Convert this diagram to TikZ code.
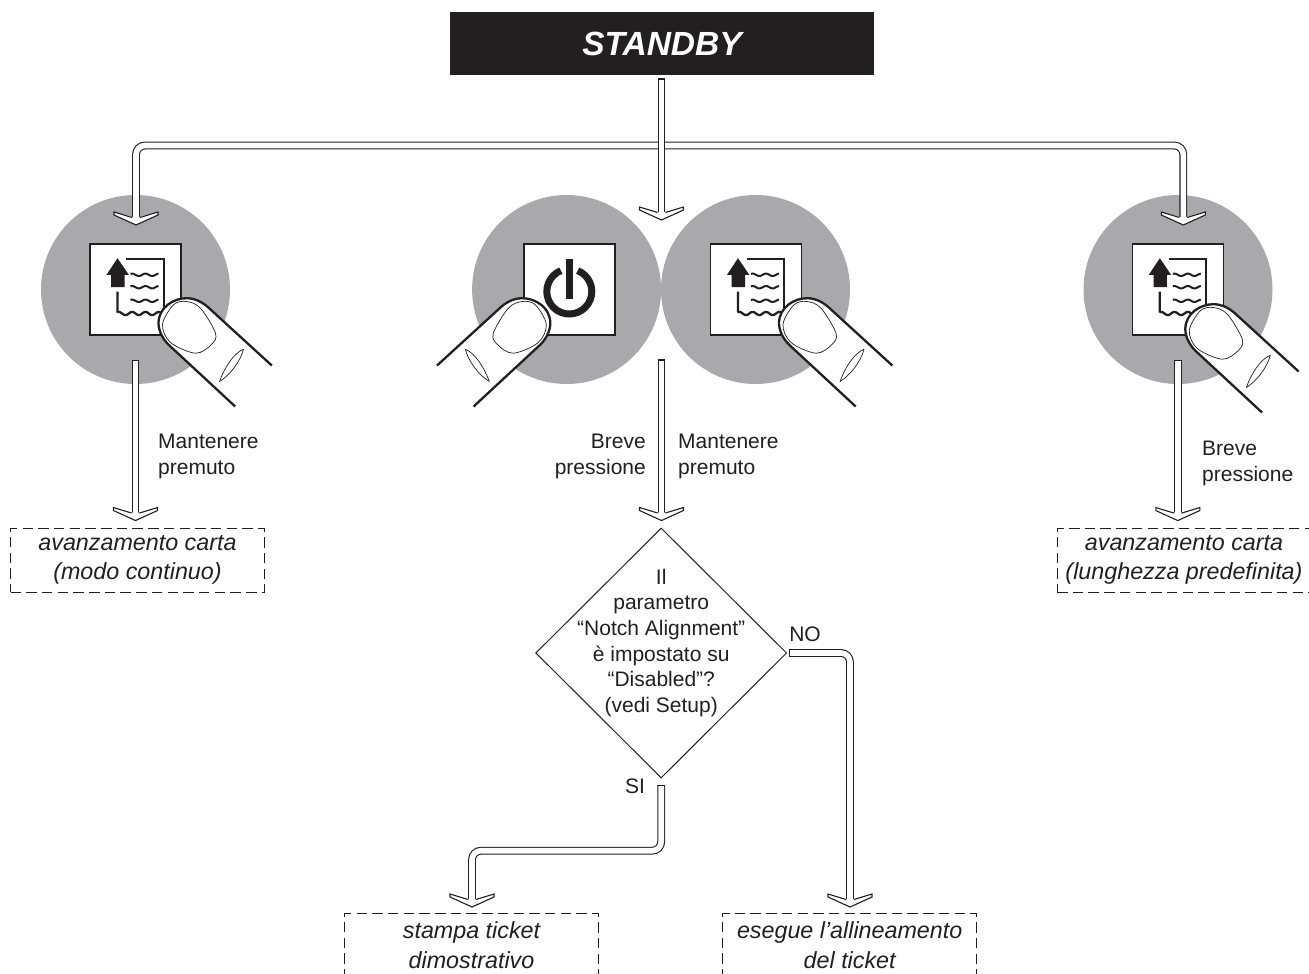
\documentclass[tikz,border=0pt]{standalone}
\usepackage{fontspec}
\setmainfont{Liberation Sans}
\usetikzlibrary{shapes.geometric}
\definecolor{ink}{HTML}{231F20}
\definecolor{disc}{HTML}{A7A9AC}
\tikzset{
  discnode/.style={circle,fill=disc,minimum size=189pt,inner sep=0pt},
  keynode/.style={rectangle,draw=ink,line width=1.5pt,fill=white,minimum size=91pt,inner sep=0pt},
  resultbox/.style={rectangle,draw=ink,line width=0.9pt,dash pattern=on 10.5pt off 5.2pt,minimum width=254pt,minimum height=64pt,inner sep=0pt,align=center,font=\fontsize{23.3}{28.5}\selectfont\itshape,text=ink},
  question/.style={diamond,draw=ink,line width=1pt,minimum width=251pt,minimum height=250pt,inner sep=0pt},
  txt/.style={font=\fontsize{21}{25.2}\selectfont,text=ink,inner sep=0pt},
  pipe/.style={draw=ink,line width=1.1pt,double=white,double distance=5.6pt,line cap=butt,rounded corners=9pt},
  cap/.pic={\draw[ink,line width=1.3pt] (-3.9,0) -- (3.9,0);},
  capv/.pic={\draw[ink,line width=1.3pt] (0,-3.9) -- (0,3.9);},
  chev/.pic={
    \fill[white] (-3.6,-8) -- (-22,-13) -- (-22,-10) -- (0,0) -- (22,-10) -- (22,-13) -- (3.6,-8) -- cycle;
    \draw[ink,line width=1.1pt,line join=miter] (-3.9,-7.5) -- (-22,-13) -- (-22,-10) -- (0,0) -- (22,-10) -- (22,-13) -- (3.9,-7.5);
  },
  feedicon/.pic={
    \fill[ink] (-18,-31.3) -- (-6.7,-14.7) -- (-11,-14.7) -- (-11,-2.3) -- (-24.3,-2.3) -- (-24.3,-14.7) -- (-29,-14.7) -- cycle;
    \draw[ink,line width=2pt,line join=miter] (-9.3,-30.7) -- (28.3,-30.7) -- (28.3,22);
    \draw[ink,line width=2.3pt] (-18,2) -- (-18,23) -- plot[domain=-18:28,samples=40] (\x,{24+1.6*sin(\x*27)});
    \foreach \yy in {-14.7,-2.3,11.3}
      \draw[ink,line width=2pt] plot[domain=-5:23,samples=30] (\x,{\yy+1.2*sin(\x*27)});
  },
  powericon/.pic={
    \draw[ink,line width=7pt] (0,2) ++(68:22.5pt) arc[start angle=68,end angle=-248,radius=22.5pt];
    \fill[ink] (-3.6,-30.7) rectangle (3.6,9.3);
  },
  finger/.pic={
    \draw[ink,line width=2.3pt,fill=white,line join=round]
      (136.3,76) -- (75,20) .. controls (68,13) and (60,8.7) .. (51,8.7)
      .. controls (38,8.7) and (23,18) .. (23,33.7)
      .. controls (23,42) and (28,51) .. (35,57) -- (99.7,117);
    \draw[ink,line width=0.7pt] plot[smooth cycle,tension=0.55] coordinates {(38,15.3) (51,12) (65,18.7) (80,43.7) (76,55) (60,63.7) (35,53) (27,35)};
    \draw[ink,line width=0.7pt] (108,59.7) .. controls (98,64) and (89,78) .. (84,92);
    \draw[ink,line width=0.7pt] (108,59.7) .. controls (105,72) and (94,86) .. (84,92);
  }
}
\begin{document}
\begin{tikzpicture}[x=1pt,y=-1pt]
\clip (0,0) rectangle (1309,974);
\useasboundingbox (0,0) rectangle (1309,974);
\node[rectangle,fill=ink,minimum width=424pt,minimum height=63pt,inner sep=0pt,text=white,font=\fontsize{33.5}{33.5}\selectfont\bfseries\itshape] (standby) at (662,43.5) {STANDBY};

% discs and keys
\node[discnode] (d1) at (135.5,289.5) {};
\node[discnode] (d2) at (566.6,289.5) {};
\node[discnode] (d3) at (755.5,289.5) {};
\node[discnode] (d4) at (1178,289.5) {};
\node[keynode] (k1) at (135.5,289.5) {};
\node[keynode] (k2) at (569.3,289.5) {};
\node[keynode] (k3) at (756,289.5) {};
\node[keynode] (k4) at (1177.8,289.5) {};
\pic at (k1) {feedicon};
\pic at (k2) {powericon};
\pic at (k3) {feedicon};
\pic at (k4) {feedicon};
\pic at (k1) {finger};
\pic at (k3) {finger};
\pic at ([xshift=-15.5pt,yshift=-6pt]k4.center) {finger};
\pic[xscale=-1] at ([xshift=4pt]k2.center) {finger};

% results and question
\node[resultbox] (b1) at (137.5,560) {\raisebox{-2pt}{avanzamento carta}\\\raisebox{-2pt}{(modo continuo)}};
\node[resultbox] (b2) at (1184,560) {\raisebox{-2pt}{avanzamento carta}\\\raisebox{-2pt}{(lunghezza predefinita)}};
\node[resultbox,font=\fontsize{23.3}{29.5}\selectfont\itshape] (b3) at (471.5,945) {\raisebox{-1pt}{stampa ticket}\\\raisebox{-1pt}{dimostrativo}};
\node[resultbox,font=\fontsize{23.3}{29.5}\selectfont\itshape] (b4) at (849.7,945) {\raisebox{-1pt}{esegue l’allineamento}\\\raisebox{-1pt}{del ticket}};
\node[question,label={[txt,align=center,yshift=10pt,font=\fontsize{21}{25.7}\selectfont]center:Il\\parametro\\“Notch Alignment”\\è impostato su\\“Disabled”?\\(vedi Setup)}] (q) at (661.2,653) {};

% connectors
\coordinate (t1) at (136,225);
\coordinate (t4) at (1183.3,225);
\draw[pipe] (t1 |- 0,218) |- (661,145.5) -| (t4 |- 0,218);
\pic at (t1) {chev};
\pic at (t4) {chev};
\draw[pipe] (661.5,79) -- (661.5,213);
\pic at (661.5,79) {cap};
\pic at (661.5,220) {chev};

\draw[pipe] ([yshift=-25pt]k1.south) -- ([yshift=14pt]k1.south |- b1.north);
\pic at ([yshift=-25pt]k1.south) {cap};
\pic at ([yshift=7pt]k1.south |- b1.north) {chev};

\draw[pipe] (661.5,360) -- (661.5,514);
\pic at (661.5,360) {cap};
\pic at ([xshift=.3pt,yshift=7pt]q.north) {chev};

\draw[pipe] ([yshift=-25pt]k4.south) -- ([yshift=14pt]k4.south |- b2.north);
\pic at ([yshift=-25pt]k4.south) {cap};
\pic at ([yshift=7pt]k4.south |- b2.north) {chev};

\draw[pipe] ([xshift=2.5pt]q.east) -- (850,653) -- (850,900);
\pic at ([xshift=2.5pt]q.east) {capv};
\pic at (850,907) {chev};
\draw[pipe] ([yshift=-7pt]q.south) -- (661.2,850.7) -- (472,850.7) -- (472,900);
\pic at ([yshift=-7pt]q.south) {cap};
\pic at (472,907) {chev};

% labels
\node[txt,align=left,anchor=west] (l1) at (158,456.5) {Mantenere\\premuto};
\node[txt,align=right,anchor=east] (l2) at (646,456.5) {Breve\\pressione};
\node[txt,align=left,anchor=west] (l3) at (678,456.5) {Mantenere\\premuto};
\node[txt,align=left,anchor=west] (l4) at (1202,463.5) {Breve\\pressione};
\node[txt,anchor=center] (no) at (805,634) {NO};
\node[txt,anchor=center] (si) at (635,786) {SI};
\end{tikzpicture}
\end{document}
